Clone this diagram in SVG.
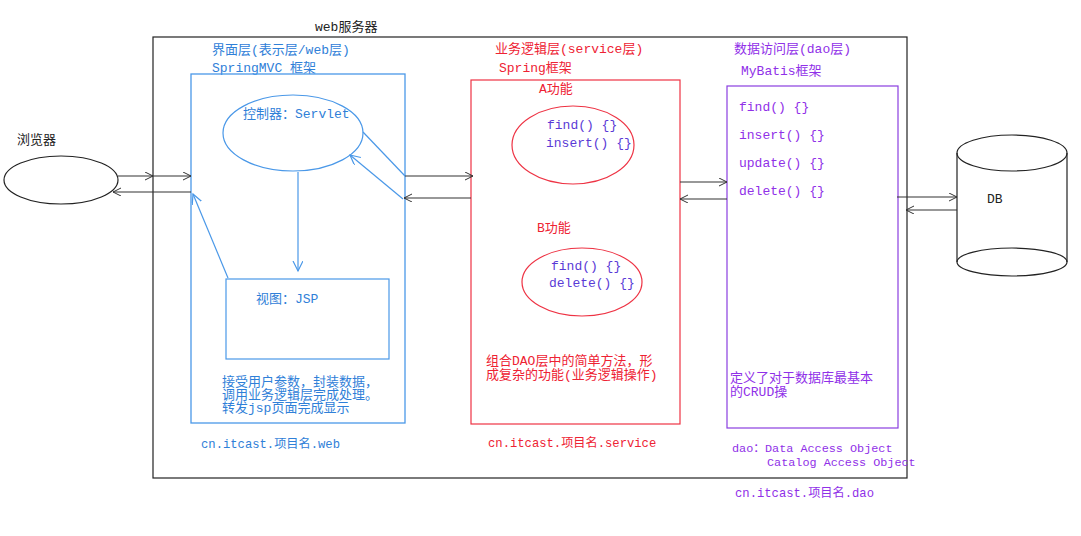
<svg xmlns="http://www.w3.org/2000/svg" width="1081" height="536" viewBox="0 0 1081 536">
<style>
text{font-family:"Liberation Mono","Noto Sans CJK SC",monospace;font-size:13px}
.sm{font-size:12.2px}
.xs{font-size:11.8px}
.blk{fill:#222}
.blu{fill:#2f80d8}
.red{fill:#ee2233}
.pur{fill:#9030e8}
.meth{fill:#5a3ad6}
.ln{fill:none;stroke:#333;stroke-width:1.2}
.bln{fill:none;stroke:#4a98e8;stroke-width:1.2}
</style>
<defs>
<marker id="ah" markerWidth="10" markerHeight="10" refX="8" refY="4" orient="auto" markerUnits="userSpaceOnUse">
<path d="M0,0 L8,4 L0,8" fill="none" stroke="#333" stroke-width="1"/>
</marker>
<marker id="ahb" markerWidth="12" markerHeight="12" refX="10" refY="5" orient="auto" markerUnits="userSpaceOnUse">
<path d="M0,0 L10,5 L0,10" fill="none" stroke="#4a98e8" stroke-width="1.2"/>
</marker>
</defs>
<rect width="1081" height="536" fill="#fff"/>

<g id="webserver">
<rect x="153" y="37" width="754" height="441" fill="none" stroke="#222" stroke-width="1.2"/>
<text x="315" y="31" class="blk">web服务器</text>
</g>

<g id="browser">
<ellipse cx="61" cy="180" rx="57" ry="24" fill="none" stroke="#222" stroke-width="1.2"/>
<text x="17" y="144" class="blk">浏览器</text>
</g>

<g id="web-layer">
<text x="212" y="54" class="blu">界面层(表示层/web层)</text>
<text x="212" y="72" class="blu">SpringMVC 框架</text>
<rect x="191" y="74" width="214" height="349" fill="none" stroke="#4a98e8" stroke-width="1.3"/>
<text x="222" y="386" class="blu">接受用户参数，封装数据，</text>
<text x="222" y="399" class="blu">调用业务逻辑层完成处理。</text>
<text x="222" y="412" class="blu">转发jsp页面完成显示</text>
<text x="201" y="448" class="blu sm">cn.itcast.项目名.web</text>
</g>

<g id="controller">
<ellipse cx="293" cy="133" rx="70" ry="38" fill="none" stroke="#4a98e8" stroke-width="1.2"/>
<text x="243" y="118" class="blu">控制器：Servlet</text>
</g>

<g id="view">
<rect x="226" y="279" width="163" height="80" fill="none" stroke="#4a98e8" stroke-width="1.2"/>
<text x="256" y="303" class="blu">视图：JSP</text>
</g>

<g id="service-layer">
<text x="495" y="53" class="red">业务逻辑层(service层)</text>
<text x="499" y="72" class="red">Spring框架</text>
<rect x="471" y="80" width="209" height="344" fill="none" stroke="#ee3344" stroke-width="1.2"/>
<text x="539" y="93" class="red">A功能</text>
<text x="537" y="232" class="red">B功能</text>
<text x="486" y="365" class="red">组合DAO层中的简单方法，形</text>
<text x="486" y="379" class="red">成复杂的功能(业务逻辑操作)</text>
<text x="488" y="447" class="red sm">cn.itcast.项目名.service</text>
</g>

<g id="func-a">
<ellipse cx="573" cy="145" rx="61" ry="39" fill="none" stroke="#ee3344" stroke-width="1.2"/>
<text x="547" y="129" class="meth">find() {}</text>
<text x="546" y="147" class="meth">insert() {}</text>
</g>

<g id="func-b">
<ellipse cx="582" cy="282" rx="60" ry="34" fill="none" stroke="#ee3344" stroke-width="1.2"/>
<text x="551" y="270" class="meth">find() {}</text>
<text x="549" y="287" class="meth">delete() {}</text>
</g>

<g id="dao-layer">
<text x="734" y="53" class="pur">数据访问层(dao层)</text>
<text x="741" y="75" class="pur">MyBatis框架</text>
<rect x="727" y="86" width="171" height="342" fill="none" stroke="#8a3ee0" stroke-width="1.2"/>
<text x="739" y="111" class="pur">find() {}</text>
<text x="739" y="139" class="pur">insert() {}</text>
<text x="739" y="167" class="pur">update() {}</text>
<text x="739" y="195" class="pur">delete() {}</text>
<text x="730" y="382" class="pur">定义了对于数据库最基本</text>
<text x="730" y="396" class="pur">的CRUD操</text>
<text x="732" y="452" class="pur xs">dao：Data Access Object</text>
<text x="767" y="466" class="pur xs">Catalog Access Object</text>
<text x="735" y="497" class="pur sm">cn.itcast.项目名.dao</text>
</g>

<g id="db">
<path d="M957,153 L957,262 M1067,153 L1067,262" fill="none" stroke="#222" stroke-width="1.2"/>
<ellipse cx="1012" cy="153" rx="55" ry="18" fill="none" stroke="#222" stroke-width="1.2"/>
<ellipse cx="1012" cy="262" rx="55" ry="14" fill="none" stroke="#222" stroke-width="1.2"/>
<text x="987" y="203" class="blk">DB</text>
</g>

<g id="connectors">
<line x1="118" y1="176" x2="153" y2="176" class="ln" marker-end="url(#ah)"/>
<line x1="153" y1="176" x2="191" y2="176" class="ln" marker-end="url(#ah)"/>
<line x1="191" y1="192" x2="113" y2="192" class="ln" marker-end="url(#ah)"/>
<line x1="405" y1="176" x2="473" y2="176" class="ln" marker-end="url(#ah)"/>
<line x1="471" y1="198" x2="404" y2="198" class="ln" marker-end="url(#ah)"/>
<line x1="680" y1="182" x2="727" y2="182" class="ln" marker-end="url(#ah)"/>
<line x1="727" y1="199" x2="680" y2="199" class="ln" marker-end="url(#ah)"/>
<line x1="897" y1="197" x2="957" y2="197" class="ln" marker-end="url(#ah)"/>
<line x1="957" y1="210" x2="906" y2="210" class="ln" marker-end="url(#ah)"/>
<line x1="298" y1="172" x2="298" y2="271" class="bln" marker-end="url(#ahb)"/>
<line x1="228" y1="278" x2="193" y2="194" class="bln" marker-end="url(#ahb)"/>
<line x1="363" y1="132" x2="405" y2="176" class="bln"/>
<line x1="403" y1="199" x2="350" y2="155" class="bln" marker-end="url(#ahb)"/>
</g>
</svg>
